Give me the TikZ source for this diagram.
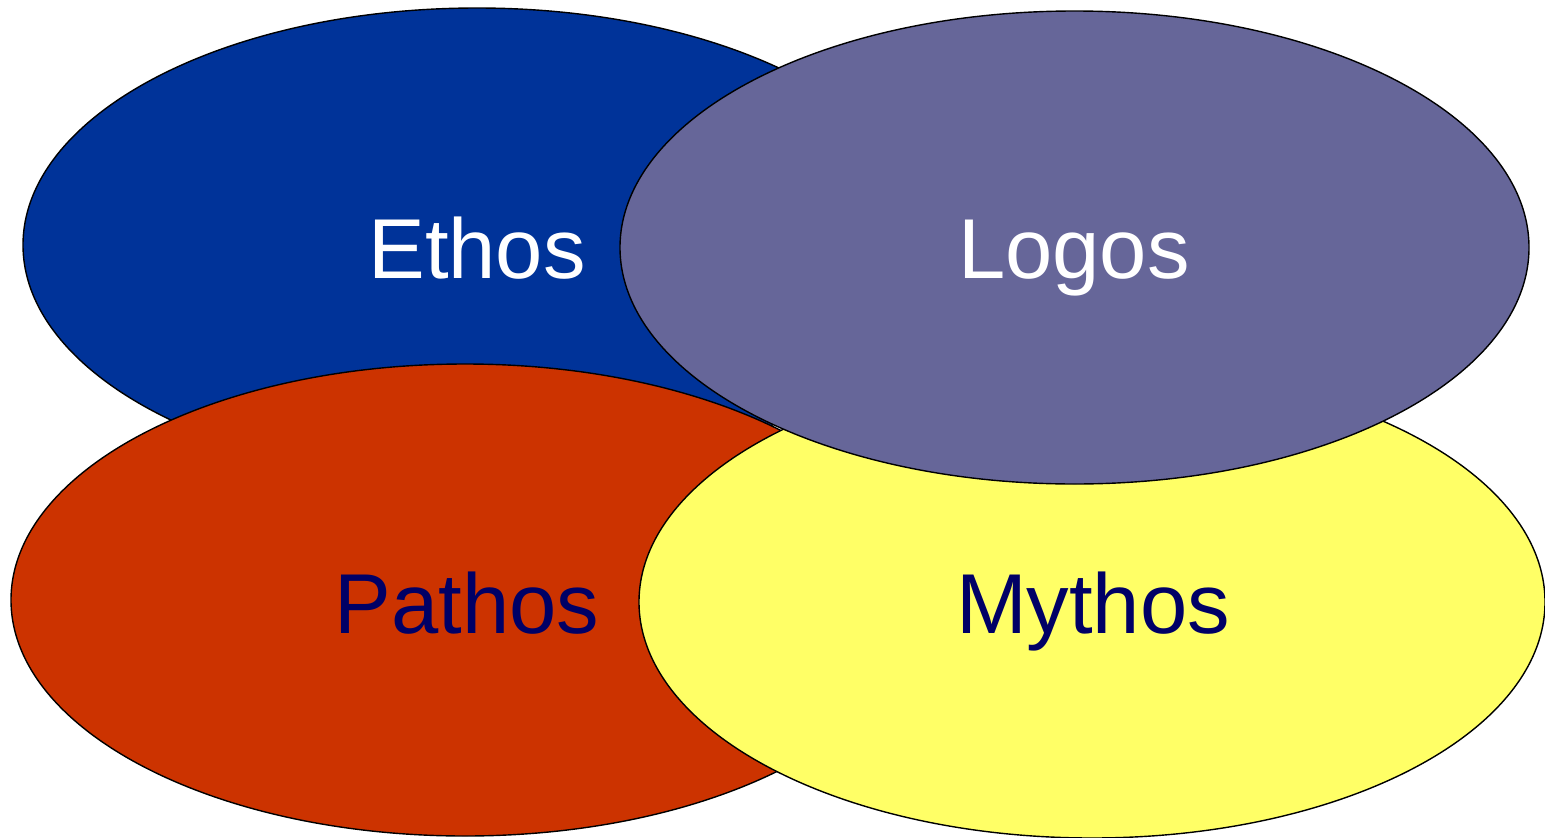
\documentclass[tikz,border=0pt]{standalone}
\usepackage{fontspec}
\setmainfont{Liberation Sans}
\usetikzlibrary{shapes.geometric}
\definecolor{ethosblue}{HTML}{003399}
\definecolor{logosgrey}{HTML}{666699}
\definecolor{pathosred}{HTML}{CC3300}
\definecolor{mythosyellow}{HTML}{FFFF66}
\definecolor{navytext}{HTML}{000066}
\begin{document}
\begin{tikzpicture}[x=1pt,y=-1pt]
\tikzset{
  petal/.style={ellipse, draw=black, line width=1.4pt, inner sep=0pt, outer sep=0pt},
  lbl/.style={anchor=base, inner sep=0pt, font=\fontsize{85}{96}\selectfont}
}
\useasboundingbox (0,0) rectangle (1545,838);
\node[petal, fill=ethosblue, minimum width=908pt, minimum height=474pt] (ethos) at (477,245) {};
\node[petal, fill=pathosred, minimum width=908pt, minimum height=472pt] (pathos) at (465,600) {};
\node[petal, fill=mythosyellow, minimum width=906pt, minimum height=472pt] (mythos) at (1092,602) {};
\node[petal, fill=logosgrey, minimum width=909pt, minimum height=473pt] (logos) at (1074.5,247.5) {};
\node[lbl, text=white] (tethos) at (477,278) {Ethos};
\node[lbl, text=white] (tlogos) at (1074,278) {Logos};
\node[lbl, text=navytext] (tpathos) at (467,633) {Pathos};
\node[lbl, text=navytext] (tmythos) at (1093,633) {Mythos};
\end{tikzpicture}
\end{document}
